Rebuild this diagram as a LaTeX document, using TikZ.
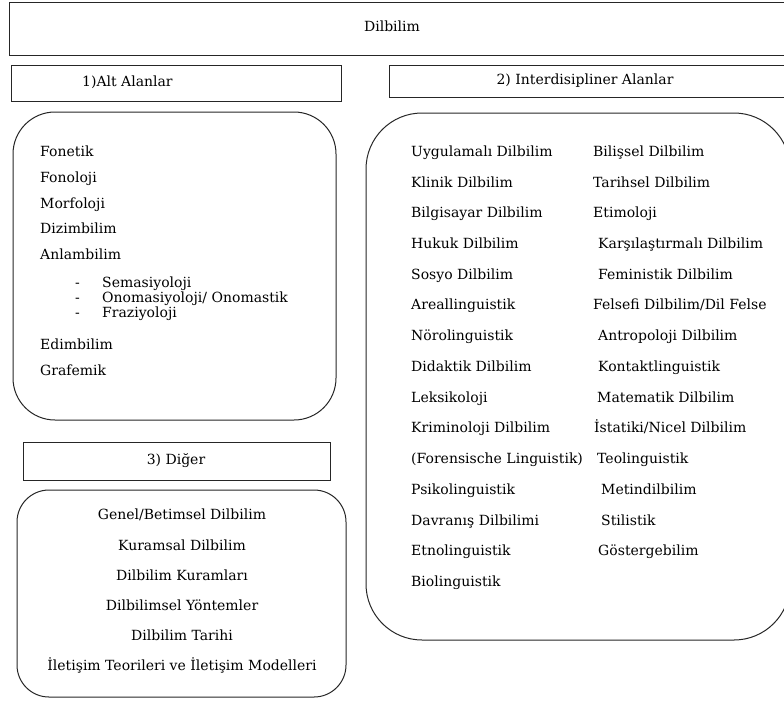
\documentclass[tikz,border=0pt]{standalone}
\usepackage{fontspec}
\setmainfont{DejaVu Serif}
\usepackage{tikz}

\tikzset{
  headbox/.style={draw=black!85, line width=1pt},
  bodybox/.style={draw=black!85, line width=1pt, rounded corners=#1},
  entry/.style={anchor=west, inner sep=0pt, text height=9pt, text depth=3pt, font=\fontsize{14}{15}\selectfont},
  centry/.style={entry, anchor=center}
}

\begin{document}
\begin{tikzpicture}[x=1pt, y=-1pt]
\useasboundingbox (0,0) rectangle (784,702);
\clip (0,0) rectangle (784,702);

% headers
\draw[headbox] (9,2) rectangle (790,55);
\node[centry] (dil) at (392,28) {Dilbilim};
\draw[headbox] (11,65) rectangle (341,101);
\node[entry] (althead) at (82,83) {1)Alt Alanlar};
\draw[headbox] (389,65) rectangle (790,97);
\node[centry] (interhead) at (585,81) {2) Interdisipliner Alanlar};
\draw[headbox] (23,442) rectangle (330,480);
\node[centry] (digerhead) at (176,461) {3) Diğer};

% 1) alt alanlar
\draw[bodybox=42pt] (13,112) rectangle (336,420);
\node[entry] (fonetik) at (40,153) {Fonetik};
\node[entry] (fonoloji) at (40,179) {Fonoloji};
\node[entry] (morfoloji) at (40,205) {Morfoloji};
\node[entry] (dizim) at (40,230) {Dizimbilim};
\node[entry] (anlam) at (40,256) {Anlambilim};
\node[entry] (dashA) at (75,284) {-};
\node[entry] (sema) at (102,284) {Semasiyoloji};
\node[entry] (dashB) at (75,299) {-};
\node[entry] (onoma) at (102,299) {Onomasiyoloji/ Onomastik};
\node[entry] (dashC) at (75,314) {-};
\node[entry] (frazi) at (102,314) {Fraziyoloji};
\node[entry] (edim) at (40,346) {Edimbilim};
\node[entry] (grafem) at (40,372) {Grafemik};

% 2) interdisipliner alanlar
\draw[bodybox=56pt] (366,113) rectangle (790,640);
\node[entry] (uygul) at (411,153) {Uygulamalı Dilbilim};
\node[entry] (klinik) at (411,184) {Klinik Dilbilim};
\node[entry] (bilgis) at (411,214) {Bilgisayar Dilbilim};
\node[entry] (hukuk) at (411,245) {Hukuk Dilbilim};
\node[entry] (sosyo) at (411,276) {Sosyo Dilbilim};
\node[entry] (areal) at (411,306) {Areallinguistik};
\node[entry] (norol) at (411,337) {Nörolinguistik};
\node[entry] (didak) at (411,368) {Didaktik Dilbilim};
\node[entry] (leksik) at (411,399) {Leksikoloji};
\node[entry] (krimin) at (411,429) {Kriminoloji Dilbilim};
\node[entry] (forens) at (411,460) {(Forensische Linguistik)};
\node[entry] (psiko) at (411,491) {Psikolinguistik};
\node[entry] (davran) at (411,522) {Davranış Dilbilimi};
\node[entry] (etno) at (411,552) {Etnolinguistik};
\node[entry] (bio) at (411,583) {Biolinguistik};
\node[entry] (bilis) at (593,153) {Bilişsel Dilbilim};
\node[entry] (tarih) at (593,184) {Tarihsel Dilbilim};
\node[entry] (etim) at (593,214) {Etimoloji};
\node[entry] (karsi) at (598,245) {Karşılaştırmalı Dilbilim};
\node[entry] (femin) at (598,276) {Feministik Dilbilim};
\node[entry] (felsefi) at (593,306) {Felsefi Dilbilim/Dil Felse};
\node[entry] (antro) at (598,337) {Antropoloji Dilbilim};
\node[entry] (kontakt) at (598,368) {Kontaktlinguistik};
\node[entry] (matem) at (597,399) {Matematik Dilbilim};
\node[entry] (istat) at (594,429) {İstatiki/Nicel Dilbilim};
\node[entry] (teol) at (597,460) {Teolinguistik};
\node[entry] (metin) at (601,491) {Metindilbilim};
\node[entry] (stil) at (601,522) {Stilistik};
\node[entry] (gosterge) at (598,552) {Göstergebilim};

% 3) diger
\draw[bodybox=32pt] (17,490) rectangle (346,697);
\node[centry] (genel) at (182,516) {Genel/Betimsel Dilbilim};
\node[centry] (kuramsal) at (182,547) {Kuramsal Dilbilim};
\node[centry] (kuramlar) at (182,577) {Dilbilim Kuramları};
\node[centry] (yontem) at (182,607) {Dilbilimsel Yöntemler};
\node[centry] (dtarih) at (182,637) {Dilbilim Tarihi};
\node[centry] (iletisim) at (182,667) {İletişim Teorileri ve İletişim Modelleri};

\end{tikzpicture}
\end{document}
